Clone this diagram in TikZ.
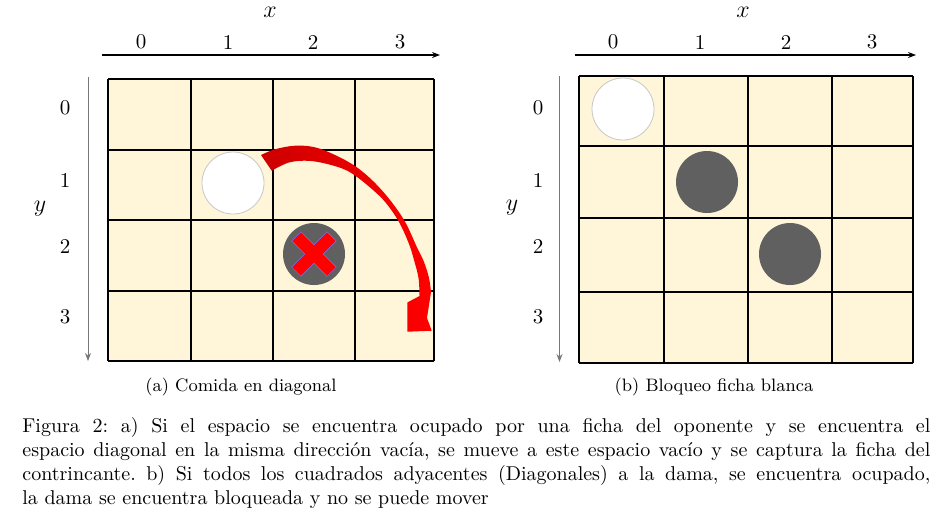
\documentclass[tikz,border=0pt]{standalone}
\usepackage{tikz}
\usetikzlibrary{arrows.meta, calc}
\definecolor{cellfill}{RGB}{255,245,216}
\definecolor{pieza}{RGB}{96,96,96}
\definecolor{ejegris}{RGB}{120,120,120}
\frenchspacing

\begin{document}
\begin{tikzpicture}[x=0.5pt, y=-0.5pt,
  eje/.style={-{Stealth[length=4pt,width=3pt]}, line width=0.55pt},
  ejev/.style={-{Stealth[length=4pt,width=3pt]}, line width=0.4pt, draw=ejegris},
  lbl/.style={font=\fontsize{10.5}{12}\selectfont, inner sep=0pt},
  var/.style={font=\large, inner sep=0pt},
  rej/.style={line width=1pt},
  blanca/.style={circle, draw=black!22, line width=0.4pt, fill=white, minimum size=31pt, inner sep=0pt},
  negra/.style={circle, fill=pieza, minimum size=31pt, inner sep=0pt},
]
\useasboundingbox (0,0) rectangle (940,527);

% ── Tablero (a) ──
\fill[cellfill] (108,79) rectangle (434,361);
\foreach \gx in {108,191,273,355,434} \draw[rej] (\gx,79) -- (\gx,361);
\foreach \gy in {79,150,220,291,361} \draw[rej] (108,\gy) -- (434,\gy);

\node[blanca] (wa) at (233,183) {};
\node[negra]  (na) at (314,254) {};

% cruz roja
\begin{scope}[shift={(na.center)}, rotate=45]
  \filldraw[fill=red, draw=blue!55, line width=0.25pt]
    (25,6.5) -- (6.5,6.5) -- (6.5,25) -- (-6.5,25) -- (-6.5,6.5) -- (-25,6.5)
    -- (-25,-6.5) -- (-6.5,-6.5) -- (-6.5,-25) -- (6.5,-25) -- (6.5,-6.5) -- (25,-6.5) -- cycle;
\end{scope}

% flecha curva
\shade[left color=red!80!black, middle color=red, right color=red]
  plot[smooth, tension=0.6] coordinates {(261,155) (275,149.3) (295,145.7) (315,147.3) (335,155) (355,166)
    (373,181) (390,200) (405,221.7) (416.7,246.7) (424,262) (429,278) (431,292)}
  -- (427,318) -- (431.7,330.7) -- (407.3,331.7) -- (407.3,302.5) -- (419.5,296)
  -- plot[smooth, tension=0.6] coordinates {(419.5,296) (418.5,278) (414,260) (409,244) (399,222) (386,203)
    (373,190) (355,175.5) (341.7,168.3) (321.7,162.7) (305,160.7) (288.3,162.7) (271.7,170.7)}
  -- cycle;

% ── Ejes (a) ──
\coordinate (ax0) at (102,55);
\coordinate (ax1) at (440,55);
\coordinate (ay0) at (88,77);
\coordinate (ay1) at (88,361);
\draw[eje] (ax0) -- (ax1);
\draw[ejev] (ay0) -- (ay1);
\foreach \i/\p in {0/141,1/228,2/313,3/400} \node[lbl] (xa\i) at (\p,42) {\i};
\foreach \i/\p in {0/108,1/180,2/246,3/317} \node[lbl] (ya\i) at (65,\p) {\i};
\node[var] (xla) at (270,12) {$x$};
\node[var] (yla) at (40,209) {$y$};
\node[font=\small, anchor=base] (capa) at (241,391) {(a) Comida en diagonal};

% ── Tablero (b) ──
\fill[cellfill] (579,76) rectangle (913,363);
\foreach \gx in {579,664,748,832,913} \draw[rej] (\gx,76) -- (\gx,363);
\foreach \gy in {76,146,218,292,363} \draw[rej] (579,\gy) -- (913,\gy);

\node[blanca] (wb)  at (623,109) {};
\node[negra]  (nb1) at (707,182) {};
\node[negra]  (nb2) at (790,254) {};

% ── Ejes (b) ──
\coordinate (bx0) at (575,55);
\coordinate (bx1) at (916,55);
\coordinate (by0) at (559.5,76);
\coordinate (by1) at (559.5,362);
\draw[eje] (bx0) -- (bx1);
\draw[ejev] (by0) -- (by1);
\foreach \i/\p in {0/613,1/700,2/786,3/872} \node[lbl] (xb\i) at (\p,42) {\i};
\foreach \i/\p in {0/108,1/180,2/246,3/317} \node[lbl] (yb\i) at (538,\p) {\i};
\node[var] (xlb) at (743,12) {$x$};
\node[var] (ylb) at (512,208) {$y$};
\node[font=\small, anchor=base] (capb) at (714,391) {(b) Bloqueo ficha blanca};

% ── Pie de figura ──
\node[anchor=north west, text width=454pt, align=justify, inner sep=0pt] (pie) at (22,416.7)
  {Figura 2: a) Si el espacio se encuentra ocupado por una ficha del oponente y se encuentra el\linebreak
   espacio diagonal en la misma dirección vacía, se mueve a este espacio vacío y se captura la ficha del\linebreak
   contrincante. b) Si todos los cuadrados adyacentes (Diagonales) a la dama, se encuentra ocupado,\linebreak
   la dama se encuentra bloqueada y no se puede mover};
\end{tikzpicture}
\end{document}
